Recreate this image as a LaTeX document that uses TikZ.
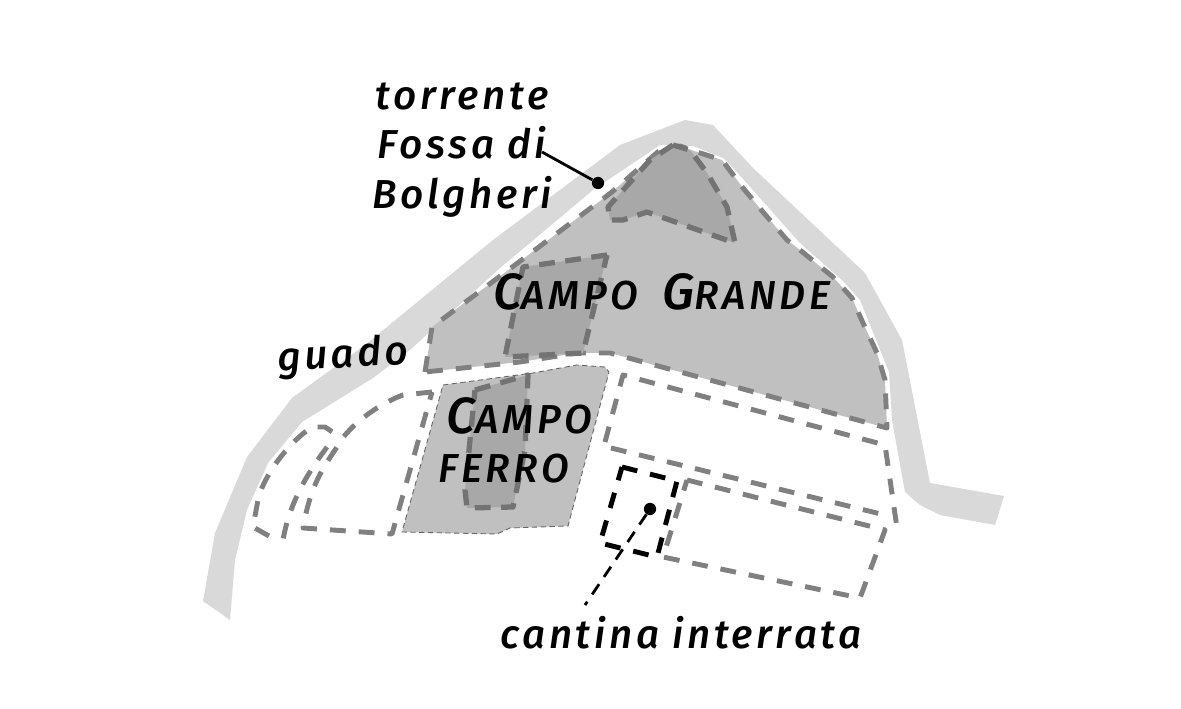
\documentclass[tikz,border=0pt]{standalone}
\usepackage{fontspec}
\newfontfamily\handfont{Fira Sans Medium}[LetterSpace=9]
\newcommand{\capinit}[1]{{\fontsize{29}{29}\selectfont #1}}
\definecolor{rivergray}{HTML}{D9D9D9}
\definecolor{fieldgray}{HTML}{C0C0C0}
\definecolor{patchgray}{HTML}{A8A8A8}
\definecolor{plotgray}{HTML}{808080}
\tikzset{
  plotline/.style={draw=plotgray,line width=2.8pt,dash pattern=on 9pt off 7.4pt,line join=round},
  patchline/.style={draw=plotgray!90!black,fill=patchgray,line width=3pt,dash pattern=on 9pt off 6pt,line join=round},
  cellarline/.style={draw=black,line width=2.8pt,dash pattern=on 9pt off 7.4pt},
  maplabel/.style={font=\handfont\itshape\fontsize{23}{28}\selectfont,inner sep=0pt,align=center},
  mapdot/.style={circle,fill=black,inner sep=0pt,minimum size=7pt}
}
\begin{document}
\begin{tikzpicture}[x=.02cm,y=-.02cm]
      \useasboundingbox[fill=white] (0,0) rectangle (1181,709);

      % torrente
      \fill[rivergray] (203,601) -- (215,533) -- (247,457) -- (292,398) -- (365,345)
        -- (493,240) -- (620,145) -- (685,120) -- (713,125) -- (753,168) -- (865,273)
        -- (902,340) -- (930,483) -- (1004,496) -- (995,525) -- (940,515) -- (920,505)
        -- (905,492) -- (892,420) -- (889,372) -- (860,300) -- (843,281) -- (800,243)
        -- (735,170) -- (723,158) -- (693,146) -- (660,145) -- (593,190) -- (500,268)
        -- (410,350) -- (373,378) -- (302,422) -- (268,463) -- (247,510) -- (235,560)
        -- (230,620) -- cycle;

      % campi
      \path[fill=fieldgray,plotline] (425,372) -- (432,327) -- (503,274) -- (612,192)
        -- (660,150) -- (680,146) -- (697,152) -- (722,160) -- (743,188) -- (763,212)
        -- (787,240) -- (800,250) -- (833,277) -- (852,298) -- (863,323) -- (877,353)
        -- (885,380) -- (887,428) -- (610,353) -- (577,353) -- (520,362) -- cycle;
      \path[fill=fieldgray,draw=black!60,line width=.5pt,densely dashed] (443,385) -- (533,373)
        -- (577,365) -- (605,367) -- (609,372) -- (568,526) -- (510,528) -- (497,534)
        -- (402,532) -- cycle;
      \path[patchline] (673,145) -- (650,160) -- (608,207) -- (610,220) -- (623,220)
        -- (647,212) -- (735,243) -- (727,207) -- (707,173) -- (690,150) -- cycle;
      \path[patchline] (607,255) -- (523,267) -- (505,357) -- (583,353) -- cycle;
      \path[patchline] (475,390) -- (528,375) -- (525,450) -- (513,507) -- (467,508)
        -- (465,490) -- cycle;

      % appezzamenti
      \draw[plotline] (432,392) -- (403,395) .. controls (375,405) and (345,430) .. (337,447)
        .. controls (318,475) and (310,490) .. (303,528) -- (392,534) -- cycle;
      \draw[plotline] (269,536) -- (253,527) -- (258,500) .. controls (262,480) and (285,445) .. (312,427)
        -- (325,427) -- (337,435);
      \draw[plotline] (327,447) .. controls (310,470) and (290,500) .. (283,540);
      \draw[plotline] (605,442) -- (623,375) -- (885,445) -- (897,528);
      \draw[plotline] (611,448) -- (885,515);
      \draw[plotline] (687,480) -- (885,530) -- (860,598) -- (663,557) -- cycle;
      \draw[cellarline] (622,467) -- (677,481) -- (657,557) -- (600,543) -- cycle;

      % etichette
      \node[maplabel] (torrente) at (462,150) {torrente\\Fossa di\\Bolgheri};
      \node[maplabel,rotate=3] (guado) at (343,357) {guado};
      \node[maplabel] (grande) at (662,292) {\capinit{C}AMPO\hspace{6pt} \capinit{G}RANDE};
      \node[maplabel,align=left] (ferro) at (515,440) {\hspace{5pt}\capinit{C}AMPO\\FERRO};
      \node[maplabel] (cantina) at (681,633) {cantina interrata};

      \node[mapdot] (torrentedot) at (598,183) {};
      \node[mapdot] (cantinadot) at (650,509) {};
      \coordinate (torrenteend) at (542,152);
      \coordinate (cantinaend) at (585,605);
      \draw[line width=1.6pt] (torrentedot) -- (torrenteend);
      \draw[line width=1.6pt,dash pattern=on 7pt off 5pt] (cantinadot) -- (cantinaend);

    \end{tikzpicture}
\end{document}
